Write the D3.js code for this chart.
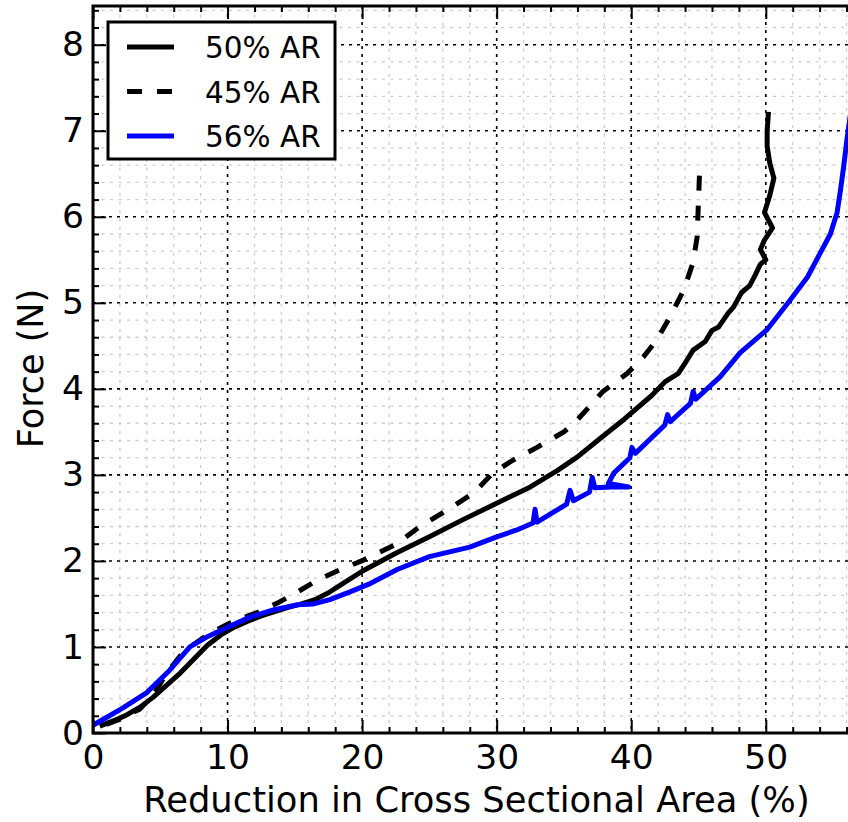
<!DOCTYPE html>
<html>
<head>
<meta charset="utf-8">
<script src="https://cdn.jsdelivr.net/npm/d3@7"></script>
<style>
  html, body { margin: 0; padding: 0; background: #fff; }
  svg { display: block; font-family: "DejaVu Sans", sans-serif; }
</style>
</head>
<body>
<svg id="chart" width="848" height="822"></svg>
<script>
// 50% AR (solid black)
const x50 = [0.5, 1.5, 2.5, 3.5, 4.5, 5.5, 6.5, 7.5, 8.5, 9.5, 10.5, 11.5, 12.5, 13.5, 14.5, 15.5, 16.5, 17.5, 18.5, 20, 22.5, 25, 27.5, 30, 32.5, 34.5, 36, 37.5, 39.5, 41.5, 42.5, 43.5, 44, 44.6, 45.5, 46, 46.5, 47.2, 47.6, 48.2, 48.8, 49.2, 49.6, 50.0, 49.6, 49.9, 50.5, 49.9, 50.3, 50.6, 50.3, 50.1, 50.1, 50.2];
const y50 = [0.08, 0.14, 0.21, 0.3, 0.42, 0.56, 0.7, 0.86, 1.02, 1.14, 1.23, 1.3, 1.36, 1.41, 1.46, 1.5, 1.55, 1.63, 1.73, 1.88, 2.09, 2.28, 2.48, 2.67, 2.86, 3.05, 3.21, 3.4, 3.65, 3.92, 4.08, 4.18, 4.3, 4.45, 4.55, 4.68, 4.72, 4.88, 4.95, 5.12, 5.2, 5.32, 5.45, 5.5, 5.62, 5.73, 5.87, 6.05, 6.25, 6.45, 6.62, 6.82, 7.0, 7.22];

// 45% AR (dashed black)
const x45 = [1, 2, 3, 3.5, 4.5, 5.5, 6.5, 7.2, 8.7, 10.2, 12.2, 13.7, 15.2, 16.7, 18.4, 20.1, 22.6, 24.3, 26.3, 28.3, 29.7, 31.2, 33, 35, 36, 37.9, 39.7, 40.9, 41.9, 42.9, 43.9, 44.6, 44.9, 45.0, 45.1];
const y45 = [0.1, 0.16, 0.24, 0.28, 0.45, 0.7, 0.9, 1.0, 1.16, 1.28, 1.4, 1.51, 1.64, 1.78, 1.9, 2.01, 2.2, 2.4, 2.59, 2.79, 3.02, 3.17, 3.32, 3.5, 3.64, 3.97, 4.18, 4.37, 4.57, 4.84, 5.15, 5.47, 5.77, 6.2, 6.6];

// 56% AR (blue)
const x56 = [0, 1, 2.2, 4, 5.7, 7.2, 8.5, 10, 11.7, 13.4, 15.2, 16.4, 17.6, 19.1, 20.5, 22.6, 25, 28, 30, 31.5, 32.7, 32.85, 33.0, 35.2, 35.45, 35.7, 36.9, 37.1, 37.3, 38.5, 39.8, 38.3, 38.7, 39.9, 40.05, 40.3, 42.5, 42.7, 42.9, 44.4, 44.6, 44.8, 46.6, 48.1, 50.1, 51.8, 53.1, 54.05, 54.8, 55.3, 55.55, 55.8, 56.03, 56.3];
const y56 = [0.09, 0.18, 0.29, 0.47, 0.73, 1.0, 1.12, 1.23, 1.35, 1.43, 1.49, 1.5, 1.55, 1.64, 1.73, 1.9, 2.05, 2.16, 2.28, 2.36, 2.44, 2.6, 2.45, 2.66, 2.82, 2.7, 2.8, 2.97, 2.85, 2.86, 2.86, 2.9, 3.02, 3.2, 3.32, 3.25, 3.58, 3.7, 3.62, 3.83, 3.97, 3.88, 4.14, 4.42, 4.69, 5.03, 5.3, 5.58, 5.8, 6.05, 6.31, 6.6, 6.9, 7.2];

const xTicks = [0, 10, 20, 30, 40, 50];
const yTicks = [0, 1, 2, 3, 4, 5, 6, 7, 8];
const seriesNames = ['50% AR', '45% AR', '56% AR'];

const m = { left: 93, top: 6, right: 860, bottom: 733 };
const svg = d3.select('#chart');

const x = d3.scaleLinear().domain([0, 57]).range([m.left, m.right]);
const y = d3.scaleLinear().domain([0, 8.45]).range([m.bottom, m.top]);

const xMinor = d3.range(0, 57.01, 2).filter(v => v % 10 !== 0);
const yMinor = d3.range(0, 8.45, 0.2).map(v => +v.toFixed(1)).filter(v => v % 1 !== 0);

svg.append('clipPath').attr('id', 'plot')
  .append('rect').attr('x', m.left).attr('y', m.top)
  .attr('width', m.right - m.left).attr('height', m.bottom - m.top);

// minor grid
const grid = svg.append('g');
grid.selectAll('.mgx').data(xMinor).join('line')
  .attr('x1', d => x(d)).attr('x2', d => x(d)).attr('y1', m.top).attr('y2', m.bottom)
  .attr('stroke', '#cdcdcd').attr('stroke-width', 1.3).attr('stroke-dasharray', '3,5.5');
grid.selectAll('.mgy').data(yMinor).join('line')
  .attr('y1', d => y(d)).attr('y2', d => y(d)).attr('x1', m.left).attr('x2', m.right)
  .attr('stroke', '#cdcdcd').attr('stroke-width', 1.3).attr('stroke-dasharray', '3,5.5');

// major grid
grid.selectAll('.gx').data(xTicks).join('line')
  .attr('x1', d => x(d)).attr('x2', d => x(d)).attr('y1', m.top).attr('y2', m.bottom)
  .attr('stroke', '#000').attr('stroke-width', 1.6).attr('stroke-dasharray', '3,5');
grid.selectAll('.gy').data(yTicks).join('line')
  .attr('y1', d => y(d)).attr('y2', d => y(d)).attr('x1', m.left).attr('x2', m.right)
  .attr('stroke', '#000').attr('stroke-width', 1.6).attr('stroke-dasharray', '3,5');

// curves
const line = d3.line().x(d => x(d[0])).y(d => y(d[1])).curve(d3.curveLinear);
const series = [
  { pts: d3.zip(x50, y50), color: '#000', dash: null },
  { pts: d3.zip(x45, y45), color: '#000', dash: '15,15' },
  { pts: d3.zip(x56, y56), color: '#0000ff', dash: null }
];
const curves = svg.append('g').attr('clip-path', 'url(#plot)');
series.forEach(s => {
  curves.append('path')
    .attr('d', line(s.pts))
    .attr('fill', 'none')
    .attr('stroke', s.color)
    .attr('stroke-width', 5)
    .attr('stroke-linejoin', 'round')
    .attr('stroke-dasharray', s.dash);
});

// axes (ticks inward)
function styleAxis(g) {
  g.select('.domain').remove();
  g.selectAll('line').attr('stroke', '#000').attr('stroke-width', 2);
  g.selectAll('text').attr('font-size', 34.5).attr('fill', '#000')
    .attr('font-family', '"DejaVu Sans", sans-serif');
}
svg.append('g').attr('transform', `translate(0,${m.bottom})`)
  .call(d3.axisBottom(x).tickValues(xTicks).tickSize(-13).tickPadding(12).tickFormat(d3.format('d')))
  .call(styleAxis);
svg.append('g').attr('transform', `translate(0,${m.bottom})`)
  .call(d3.axisBottom(x).tickValues(xMinor).tickSize(-6).tickFormat(''))
  .call(styleAxis);
svg.append('g').attr('transform', `translate(0,${m.top})`)
  .call(d3.axisTop(x).tickValues(xTicks).tickSize(-13).tickFormat(''))
  .call(styleAxis);
svg.append('g').attr('transform', `translate(0,${m.top})`)
  .call(d3.axisTop(x).tickValues(xMinor).tickSize(-6).tickFormat(''))
  .call(styleAxis);
svg.append('g').attr('transform', `translate(${m.left},0)`)
  .call(d3.axisLeft(y).tickValues(yTicks).tickSize(-13).tickPadding(9).tickFormat(d3.format('d')))
  .call(styleAxis);
svg.append('g').attr('transform', `translate(${m.left},0)`)
  .call(d3.axisLeft(y).tickValues(yMinor).tickSize(-6).tickFormat(''))
  .call(styleAxis);

// frame
svg.append('rect').attr('x', m.left).attr('y', m.top)
  .attr('width', m.right - m.left).attr('height', m.bottom - m.top)
  .attr('fill', 'none').attr('stroke', '#000').attr('stroke-width', 3);

// axis labels
svg.append('text').attr('x', 476.5).attr('y', 812)
  .attr('text-anchor', 'middle').attr('font-size', 35.3)
  .text('Reduction in Cross Sectional Area (%)');
svg.append('text')
  .attr('transform', `translate(43,368.5) rotate(-90)`)
  .attr('text-anchor', 'middle').attr('font-size', 35)
  .text('Force (N)');

// legend
const lg = svg.append('g');
lg.append('rect').attr('x', 108).attr('y', 22).attr('width', 227).attr('height', 137)
  .attr('fill', '#fff').attr('stroke', '#000').attr('stroke-width', 3);
series.forEach((s, i) => {
  const cy = 47 + i * 44.5;
  lg.append('line').attr('x1', 127).attr('x2', 174).attr('y1', cy).attr('y2', cy)
    .attr('stroke', s.color).attr('stroke-width', 5).attr('stroke-dasharray', s.dash);
  lg.append('text').attr('x', 205).attr('y', cy + 11).attr('font-size', 29.5)
    .text(seriesNames[i]);
});
</script>
</body>
</html>
